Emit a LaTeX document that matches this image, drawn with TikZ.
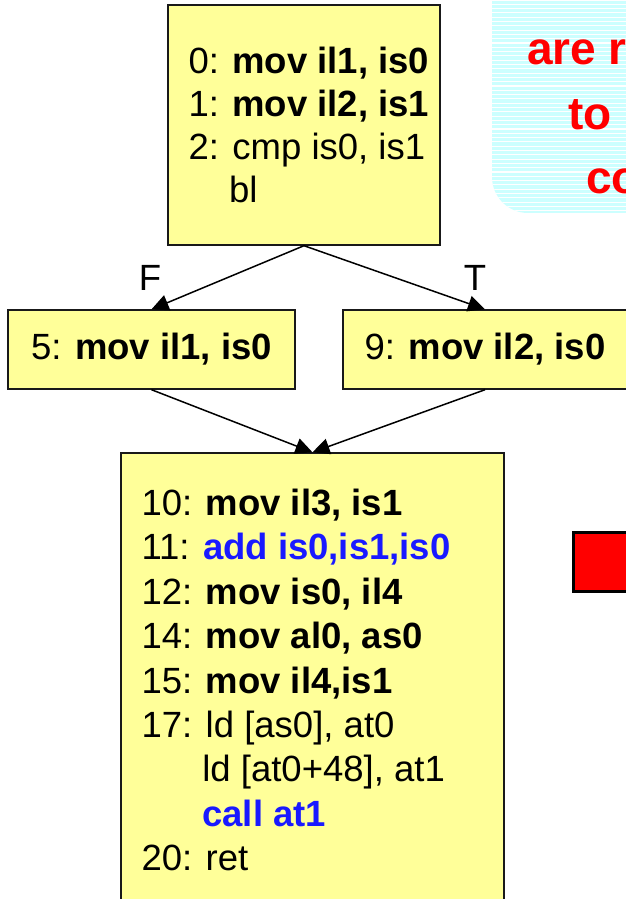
\documentclass[tikz,border=0pt]{standalone}
\usepackage{fontspec}
\setmainfont{Liberation Sans}
\usetikzlibrary{arrows.meta,positioning}

\newlength{\du}
\setlength{\du}{1pt}
\definecolor{blockfill}{rgb}{1.000000, 1.000000, 0.600000}
\definecolor{blockline}{rgb}{0.100000, 0.100000, 0.100000}
\definecolor{notefill}{rgb}{0.800000, 1.000000, 1.000000}
\definecolor{notetext}{rgb}{1.000000, 0.000000, 0.000000}
\definecolor{hiblue}{rgb}{0.100000, 0.100000, 1.000000}
\newcommand{\hi}[1]{\textcolor{hiblue}{\textbf{#1}}}

\tikzset{
  block/.style={draw=blockline, fill=blockfill, line width=1.4\du, inner sep=0pt,
    font=\fontsize{36.5}{43}\selectfont},
  code/.style={align=left, inner sep=0pt, font=\fontsize{36.5}{#1}\selectfont},
  code/.default=44.4,
  lbl/.style={inner sep=0pt, font=\fontsize{36.5}{43}\selectfont},
  note/.style={inner sep=0pt, text=notetext, font=\fontsize{46}{54}\selectfont\bfseries},
  flow/.style={line width=1.5\du, -{Triangle[length=17pt,width=16pt]}},
}

\begin{document}
\begin{tikzpicture}
\pgftransformyscale{-1.000000}
\useasboundingbox (0\du,0\du) rectangle (626\du,899\du);
% striped note panel in the corner
\begin{scope}
\clip[rounded corners=36\du] (492\du,-60\du) rectangle (700\du,213\du);
\fill[notefill] (492\du,-60\du) rectangle (700\du,213\du);
\foreach \y in {0,4.3,...,213}
  \draw[white, line width=1.1\du] (492\du,\y\du) -- (700\du,\y\du);
\end{scope}
\node[note, anchor=base west] (notea) at (527\du,65\du) {are r};
\node[note, anchor=base west] (noteb) at (568\du,129\du) {to};
\node[note, anchor=base west] (notec) at (586\du,193\du) {co};
% red block on the right
\draw[draw=black, fill=red, line width=3\du] (573\du,532\du) rectangle (700\du,591\du);
% basic blocks
\node[block, minimum width=272\du, minimum height=240\du] (entry) at (304\du,125\du) {};
\node[code=42.7, right=21\du of entry.west] (entrycode) {0: \textbf{mov il1, is0}\\
1: \textbf{mov il2, is1}\\
2: cmp is0, is1\\
\phantom{2:\ }bl};
\node[block, minimum width=287\du, minimum height=79\du] (elsebr) at (151.5\du,349.5\du) {5: \textbf{mov il1, is0}};
\node[block, minimum width=284\du, minimum height=79\du] (thenbr) at (485\du,349.5\du) {9: \textbf{mov il2, is0}};
\node[block, minimum width=383\du, minimum height=454\du] (exit) at (312.5\du,680\du) {};
\node[code, right=21\du of exit.west] (exitcode) {10: \textbf{mov il3, is1}\\
11: \hi{add is0,is1,is0}\\
12: \textbf{mov is0, il4}\\
14: \textbf{mov al0, as0}\\
15: \textbf{mov il4,is1}\\
17: ld [as0], at0\\
\phantom{17:\ }ld [at0+48], at1\\
\phantom{17:\ }\hi{call at1}\\
20: ret};
% branch edges
\draw[flow] (entry.south) -- (elsebr.north);
\draw[flow] (entry.south) -- (thenbr.north);
\draw[flow] (elsebr.south) -- (exit.north);
\draw[flow] (thenbr.south) -- (exit.north);
\node[lbl] (flabel) at (150\du,278\du) {F};
\node[lbl] (tlabel) at (475\du,278\du) {T};
\end{tikzpicture}
\end{document}
